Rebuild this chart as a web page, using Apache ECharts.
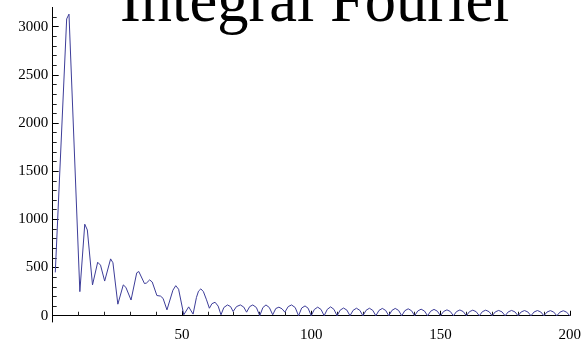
<!DOCTYPE html>
<html>
<head>
<meta charset="utf-8">
<script src="https://cdn.jsdelivr.net/npm/echarts@6/dist/echarts.min.js"></script>
<style>
html,body{margin:0;padding:0;background:#fff;}
#chart{width:584px;height:343px;}
</style>
</head>
<body>
<div id="chart"></div>
<script>
var titleText = 'Integral Fourier';

var xs = [1, 5.4, 6.3, 10.5, 12.4, 13.4, 15.4, 17.4, 18.5, 20.1,
  22.4, 23.3, 25.2, 27.3, 28.3, 30.3, 32.5, 33.3, 35.5, 36.3,
  37.5, 38.5, 40.3, 41.7, 42.7, 44.2, 46.5, 47.6, 48.7, 50.7,
  52.6, 54.3, 55.6, 56.4, 57.3, 58.3, 59.5, 60.6,
  61.6, 62.8, 64, 65.1,
  66.2, 67.6, 68.8, 69.8,
  71.1, 72.6, 73.9, 75,
  76.2, 77.4, 78.8, 80.1,
  81.3, 82.5, 83.8, 85.1,
  86.3, 87.5, 88.7, 89.8,
  91.1, 92.4, 93.8, 95.1,
  96.3, 97.6, 98.8, 100,
  101.2, 102.5, 103.8, 105,
  106.2, 107.5, 108.8, 110,
  111.2, 112.5, 113.8, 115,
  116.2, 117.5, 118.8, 120,
  121.2, 122.5, 123.8, 125,
  126.2, 127.5, 128.8, 130,
  131.2, 132.5, 133.8, 135,
  136.2, 137.5, 138.8, 140,
  141.2, 142.5, 143.8, 145,
  146.2, 147.5, 148.8, 150,
  151.2, 152.5, 153.8, 155,
  156.2, 157.5, 158.8, 160,
  161.2, 162.5, 163.8, 165,
  166.2, 167.5, 168.8, 170,
  171.2, 172.5, 173.8, 175,
  176.2, 177.5, 178.8, 180,
  181.2, 182.5, 183.8, 185,
  186.2, 187.5, 188.8, 190,
  191.2, 192.5, 193.8, 195,
  196.2, 197.5, 198.8, 200];

var ys = [450, 3080, 3130, 250, 950, 890, 320, 555, 525, 360,
  590, 550, 120, 320, 295, 163, 445, 459, 334, 340,
  372, 350, 210, 204, 180, 61, 265, 312, 275, 10,
  92, 17, 190, 255, 279, 250, 165, 78,
  125, 140, 100, 10,
  85, 112, 95, 44,
  95, 112, 90, 37,
  95, 112, 85, 0,
  85, 112, 85, 10,
  75, 89, 72, 37,
  95, 112, 85, 0,
  80, 102, 78, 0,
  65, 89, 65, 0,
  66, 92, 66, 0,
  58, 80, 58, 0,
  56, 78, 56, 0,
  56, 78, 56, 0,
  55, 76, 55, 0,
  55, 76, 55, 0,
  52, 72, 52, 0,
  49, 68, 49, 0,
  47, 66, 47, 0,
  44, 61, 44, 0,
  43, 60, 43, 0,
  42, 58, 42, 0,
  42, 58, 42, 0,
  40, 55, 40, 0,
  40, 55, 40, 0,
  39, 54, 39, 0,
  39, 54, 39, 0,
  38, 53, 38, 0,
  37, 52, 37, 0];

var xMajorTicks = [50, 100, 150, 200];
var xMinorTicks = [10, 20, 30, 40, 60, 70, 80, 90, 110, 120, 130, 140, 160, 170, 180, 190];
var yMajorTicks = [0, 500, 1000, 1500, 2000, 2500, 3000];
var yMinorTicks = [100, 200, 300, 400, 600, 700, 800, 900, 1100, 1200, 1300, 1400,
  1600, 1700, 1800, 1900, 2100, 2200, 2300, 2400, 2600, 2700, 2800, 2900, 3100];

var points = xs.map(function (x, i) { return [x, ys[i]]; });

var FONT = 'Liberation Serif';
var chart = echarts.init(document.getElementById('chart'), null, {renderer: 'canvas'});
var axisLineStyle = {color: '#000', width: 1};
var plain = function (v) { return String(v); };

chart.setOption({
  animation: false,
  backgroundColor: '#fff',
  title: {
    text: titleText,
    left: 115,
    top: -32,
    textStyle: {fontFamily: FONT, fontSize: 62.5, fontWeight: 'normal', color: '#000'}
  },
  grid: {left: 52.7, right: 11.5, top: 7.4, bottom: 15.3, containLabel: false},
  xAxis: [{
    type: 'value', min: 0, max: 200, position: 'bottom',
    axisLine: {show: true, onZero: true, lineStyle: axisLineStyle},
    axisTick: {show: true, inside: true, length: 5, customValues: xMajorTicks, lineStyle: {color: '#000'}},
    axisLabel: {show: true, customValues: xMajorTicks, formatter: plain, margin: 6, fontFamily: FONT, fontSize: 15, color: '#000'},
    splitLine: {show: false}
  }, {
    type: 'value', min: 0, max: 200, position: 'bottom',
    axisLine: {show: true, onZero: true, lineStyle: axisLineStyle},
    axisTick: {show: true, inside: true, length: 4, customValues: xMinorTicks, lineStyle: {color: '#222'}},
    axisLabel: {show: false},
    splitLine: {show: false}
  }],
  yAxis: [{
    type: 'value', min: -65, max: 3200, position: 'left',
    axisLine: {show: true, onZero: false, lineStyle: axisLineStyle},
    axisTick: {show: true, inside: true, length: 6, customValues: yMajorTicks, lineStyle: {color: '#000'}},
    axisLabel: {show: true, customValues: yMajorTicks, formatter: plain, margin: 4.5, fontFamily: FONT, fontSize: 15, color: '#000'},
    splitLine: {show: false}
  }, {
    type: 'value', min: -65, max: 3200, position: 'left',
    axisLine: {show: false, onZero: false},
    axisTick: {show: true, inside: true, length: 4, customValues: yMinorTicks, lineStyle: {color: '#222'}},
    axisLabel: {show: false},
    splitLine: {show: false}
  }],
  series: [{
    type: 'line',
    xAxisIndex: 0, yAxisIndex: 0,
    data: points,
    showSymbol: false,
    lineStyle: {color: '#3d3d99', width: 1},
    itemStyle: {color: '#3d3d99'}
  }]
});
</script>
</body>
</html>
